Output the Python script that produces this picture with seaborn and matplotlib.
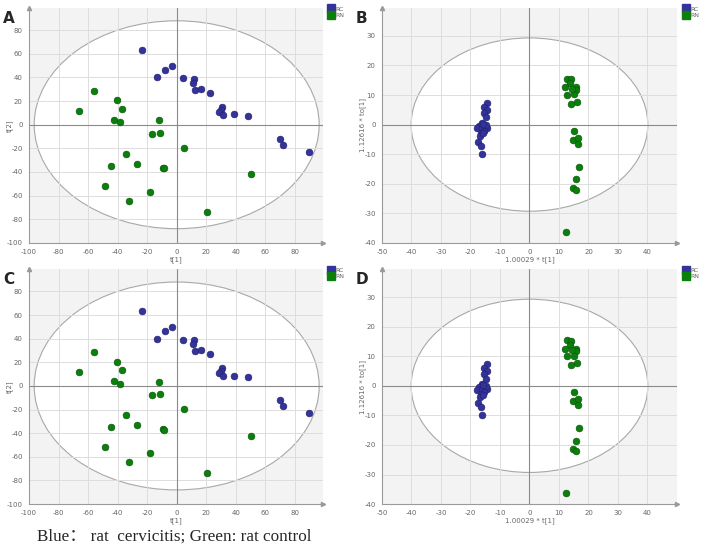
import numpy as np
import pandas as pd
import seaborn as sns
import matplotlib.pyplot as plt
from matplotlib.patches import Ellipse
from matplotlib.lines import Line2D

# PCA scores (panels A and C)
pca_rc_x = [-23.2, -7.6, -2.9, -13.3, 4.3, 12.0, 11.3, 12.7, 16.3, 22.9,
            31.0, 29.9, 28.5, 31.7, 38.9, 48.0, 70.1, 72.1, 89.9]
pca_rc_y = [63.6, 46.6, 49.7, 40.1, 39.2, 39.0, 35.3, 29.6, 30.2, 26.8,
            14.9, 12.6, 11.2, 8.4, 8.7, 7.3, -11.7, -16.8, -23.3]
pca_rn_x = [-56.0, -65.9, -40.4, -36.8, -42.4, -38.3, -11.9, -16.7, -11.2, 5.1,
            -34.5, -44.7, -27.1, -9.4, -8.5, -48.5, -17.8, -32.5, 50.0, 20.6]
pca_rn_y = [28.8, 11.8, 20.6, 13.5, 3.9, 1.9, 3.7, -7.7, -6.9, -19.9,
            -25.0, -34.9, -32.9, -36.3, -36.9, -51.6, -57.0, -64.6, -42.0, -73.7]

# OPLS-DA scores (panels B and D)
opls_rc_x = [-14.5, -15.4, -14.3, -15.4, -14.7, -16.2, -17.1, -17.9, -16.0, -14.3,
             -15.4, -16.5, -16.9, -17.4, -16.5, -16.2, -14.9, -15.9, -15.6]
opls_rc_y = [7.4, 6.0, 4.9, 4.0, 2.4, 0.7, -0.5, -1.3, -1.3, -1.1,
             -2.1, -2.8, -3.9, -5.8, -7.3, -9.9, -0.2, -3.0, 0.3]
opls_rn_x = [12.7, 14.1, 13.6, 12.1, 15.6, 15.9, 12.7, 15.0, 16.1, 14.2,
             14.4, 15.0, 14.8, 16.3, 16.3, 16.8, 15.6, 14.9, 15.8, 12.3]
opls_rn_y = [15.4, 15.3, 13.9, 12.6, 12.6, 11.7, 10.0, 10.2, 7.7, 6.9,
             12.2, -2.1, -5.3, -4.5, -6.4, -14.3, -18.5, -21.3, -22.0, -36.3]

groups = ["RC", "RN"]
colors = {"RC": "#33339a", "RN": "#0b7f0b"}
edges = {"RC": "#1e1e6e", "RN": "#065206"}


def frame(rc_x, rc_y, rn_x, rn_y):
    return pd.DataFrame({
        "x": rc_x + rn_x,
        "y": rc_y + rn_y,
        "group": ["RC"] * len(rc_x) + ["RN"] * len(rn_x),
    })


pca_df = frame(pca_rc_x, pca_rc_y, pca_rn_x, pca_rn_y)
opls_df = frame(opls_rc_x, opls_rc_y, opls_rn_x, opls_rn_y)

panels = [
    # letter, data, xlim, ylim, xticks, yticks, ellipse (w, h), xlabel, ylabel, rect
    ("A", pca_df, (-100, 99), (-100, 99), np.arange(-100, 81, 20), np.arange(-100, 81, 20),
     (193, 176), "t[1]", "t[2]", [0.041, 0.564, 0.415, 0.422]),
    ("B", opls_df, (-50, 50), (-40, 39.5), np.arange(-50, 41, 10), np.arange(-40, 31, 10),
     (80.2, 58.6), "1.00029 * t[1]", "1.12616 * to[1]", [0.5395, 0.564, 0.4167, 0.422]),
    ("C", pca_df, (-100, 99), (-100, 99), np.arange(-100, 81, 20), np.arange(-100, 81, 20),
     (193, 176), "t[1]", "t[2]", [0.041, 0.095, 0.415, 0.422]),
    ("D", opls_df, (-50, 50), (-40, 39.5), np.arange(-50, 41, 10), np.arange(-40, 31, 10),
     (80.2, 58.6), "1.00029 * t[1]", "1.12616 * to[1]", [0.5395, 0.095, 0.4167, 0.422]),
]

sns.set_style("white")
plt.rcParams["axes.unicode_minus"] = False
fig = plt.figure(figsize=(7.08, 5.57), dpi=100)

for letter, df, xlim, ylim, xticks, yticks, ell, xlab, ylab, rect in panels:
    ax = fig.add_axes(rect)
    ax.set_facecolor("#f3f3f3")
    ax.add_patch(Ellipse((0, 0), ell[0], ell[1], facecolor="white",
                         edgecolor="#a8a8a8", lw=0.8, zorder=0.5))
    ax.set_xlim(*xlim)
    ax.set_ylim(*ylim)
    ax.set_xticks(xticks)
    ax.set_yticks(yticks)
    ax.minorticks_on()
    ax.grid(True, which="major", color="#dddddd", lw=0.7, zorder=0)
    ax.set_axisbelow(True)
    ax.axhline(0, color="#8a8a8a", lw=0.8, zorder=1)
    ax.axvline(0, color="#8a8a8a", lw=0.8, zorder=1)
    for g in groups:
        sub = df[df["group"] == g]
        sns.scatterplot(data=sub, x="x", y="y", ax=ax, color=colors[g],
                        edgecolor=edges[g], linewidth=0.4, s=24, zorder=3,
                        legend=False)
    for side in ["top", "right"]:
        ax.spines[side].set_visible(False)
    for side in ["left", "bottom"]:
        ax.spines[side].set_color("#9a9a9a")
        ax.spines[side].set_linewidth(0.8)
    ax.tick_params(which="major", length=3, width=0.6, color="#9a9a9a",
                   labelsize=5, labelcolor="#666666", pad=1.5)
    ax.tick_params(which="minor", length=1.5, width=0.5, color="#9a9a9a")
    # arrow heads at the ends of the axes
    ax.plot(1, 0, ">", transform=ax.transAxes, color="#9a9a9a", ms=3,
            clip_on=False)
    ax.plot(0, 1, "^", transform=ax.transAxes, color="#9a9a9a", ms=3,
            clip_on=False)
    ax.set_xlabel(xlab, fontsize=5, color="#666666", labelpad=1)
    ax.set_ylabel(ylab, fontsize=5, color="#666666")
    ax.yaxis.set_label_coords(-0.055, 0.5)
    handles = [Line2D([], [], marker="s", ls="", color=colors[g], ms=6,
                      label=g) for g in groups]
    ax.legend(handles=handles, loc="upper left", bbox_to_anchor=(1.01, 1.02),
              frameon=False, fontsize=4.5, handlelength=0.8, handletextpad=0.3,
              borderpad=0, labelspacing=0.15, labelcolor="#666666")
    fig.text(rect[0] - 0.037, rect[1] + rect[3] - 0.005, letter,
             fontsize=11, fontweight="bold", va="top", ha="left")

fig.text(0.052, 0.037, "Blue\uff1a rat  cervicitis; Green: rat control",
         fontsize=12.3, va="center", ha="left",
         family=["Liberation Serif", "Noto Sans CJK SC"])

fig.savefig("out.png", dpi=100)
